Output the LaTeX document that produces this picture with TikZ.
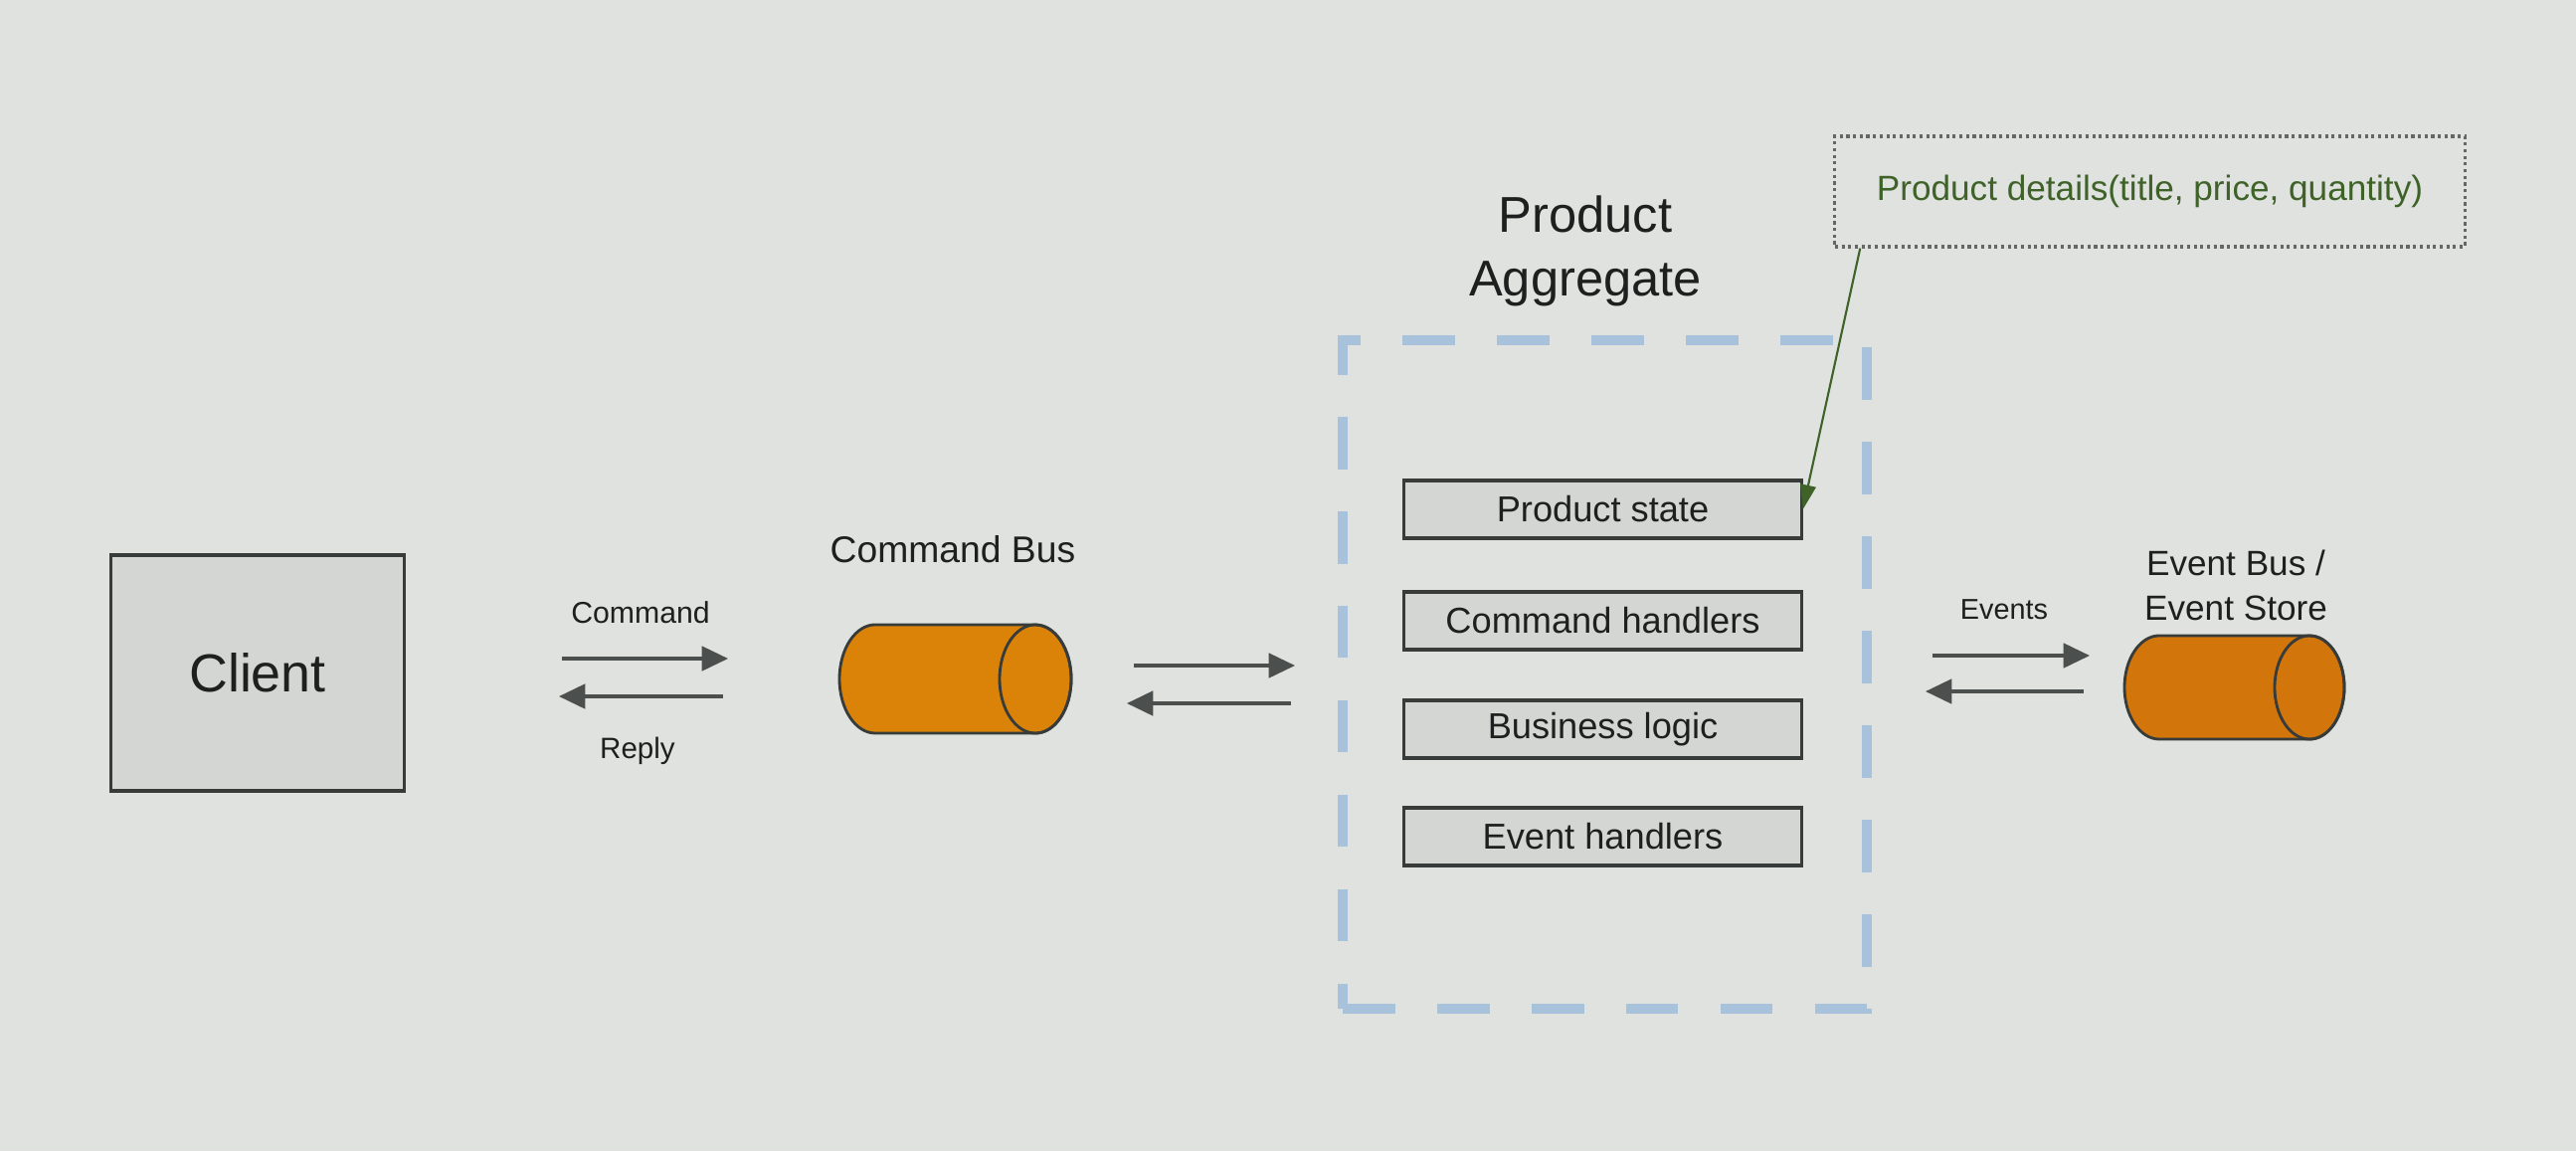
\documentclass[tikz,border=0pt]{standalone}
\usepackage{fontspec}
\setmainfont{Liberation Sans}
\usetikzlibrary{arrows.meta}
\definecolor{bg}{RGB}{223,226,223}
\definecolor{boxfill}{RGB}{212,214,212}
\definecolor{boxline}{RGB}{55,60,58}
\definecolor{orangeA}{RGB}{218,131,8}
\definecolor{orangeB}{RGB}{210,118,12}
\definecolor{aggblue}{RGB}{168,194,220}
\definecolor{notegreen}{RGB}{62,98,40}
\definecolor{txt}{RGB}{30,32,32}
\tikzset{
  plainbox/.style={draw=boxline, fill=boxfill, line width=0.9pt, inner sep=0pt, text=txt},
  innerbox/.style={plainbox, minimum width=3.99cm, minimum height=0.58cm, font=\fontsize{10.3}{12}\selectfont},
  aggbox/.style={draw=aggblue, line width=2.8pt, dash pattern=on 15pt off 12pt, inner sep=0pt},
  notebox/.style={draw=gray!80!black, densely dotted, line width=0.9pt, inner sep=0pt, text=notegreen, font=\fontsize{10}{12}\selectfont},
  lbl/.style={text=txt, inner sep=0pt, align=center},
  flow/.style={draw=boxline!90, line width=0.9pt, -{Triangle[length=7.5pt,width=7pt]}},
  greenarrow/.style={draw=notegreen, line width=0.6pt, -{Triangle[length=7pt,width=4.5pt]}},
  cylline/.style={draw=boxline, line width=0.8pt}
}
\begin{document}
\begin{tikzpicture}[x=0.01cm,y=-0.01cm]
\fill[bg] (0,0) rectangle (2590,1157);
\useasboundingbox (0,0) rectangle (2590,1157);

% Client
\node[plainbox, minimum width=2.94cm, minimum height=2.37cm, font=\fontsize{15.3}{18}\selectfont] (client) at (259,676.5) {Client};

% Command bus cylinder
\coordinate (cbus) at (960.5,682.5);
\draw[cylline, fill=orangeA] (1041,628) arc[start angle=90, end angle=-90, x radius=0.36cm, y radius=0.545cm] -- (880,737) arc[start angle=270, end angle=90, x radius=0.36cm, y radius=0.545cm] -- cycle;
\draw[cylline] (1041,682.5) ellipse [x radius=0.36cm, y radius=0.545cm];
\node[lbl, font=\fontsize{10.6}{13}\selectfont] (cbuslbl) at (958,552) {Command Bus};

% Event bus cylinder
\coordinate (ebus) at (2246.5,691);
\draw[cylline, fill=orangeB] (2322,639) arc[start angle=90, end angle=-90, x radius=0.35cm, y radius=0.52cm] -- (2171,743) arc[start angle=270, end angle=90, x radius=0.35cm, y radius=0.52cm] -- cycle;
\draw[cylline] (2322,691) ellipse [x radius=0.35cm, y radius=0.52cm];
\node[lbl, font=\fontsize{10}{12.8}\selectfont] (ebuslbl) at (2248,588) {Event Bus /\\Event Store};

% Aggregate
\node[aggbox, minimum width=5.27cm, minimum height=6.72cm] (agg) at (1613.5,678) {};
\node[lbl, font=\fontsize{14.4}{18.2}\selectfont] (agglbl) at (1594,252) {Product\\Aggregate};
\node[innerbox] (ps) at (1611.5,512) {Product state};
\node[innerbox] (ch) at (1611.5,624) {Command handlers};
\node[innerbox] (bl) at (1611.5,733) {Business logic};
\node[innerbox] (eh) at (1611.5,841) {Event handlers};

% Note
\node[notebox, minimum width=6.33cm, minimum height=1.11cm] (note) at (2161.5,192.5) {Product details(title, price, quantity)};
\draw[greenarrow] ([xshift=0.27cm]note.south west) -- (ps.east);

% Client <-> Command bus
\coordinate (a1s) at (565,662); \coordinate (a1e) at (732,662);
\coordinate (a2s) at (727,700); \coordinate (a2e) at (562,700);
\draw[flow] (a1s) -- (a1e);
\draw[flow] (a2s) -- (a2e);
\node[lbl, font=\fontsize{8.6}{10}\selectfont] (cmdlbl) at (644,616) {Command};
\node[lbl, font=\fontsize{8.4}{10}\selectfont] (replbl) at (641,755) {Reply};

% Command bus <-> Aggregate
\coordinate (b1s) at (1140,669); \coordinate (b1e) at (1302,669);
\coordinate (b2s) at (1298,707); \coordinate (b2e) at (1133,707);
\draw[flow] (b1s) -- (b1e);
\draw[flow] (b2s) -- (b2e);

% Aggregate <-> Event bus
\coordinate (c1s) at (1943,659); \coordinate (c1e) at (2101,659);
\coordinate (c2s) at (2095,695); \coordinate (c2e) at (1936,695);
\draw[flow] (c1s) -- (c1e);
\draw[flow] (c2s) -- (c2e);
\node[lbl, font=\fontsize{8.2}{10}\selectfont] (evlbl) at (2015,613) {Events};
\end{tikzpicture}
\end{document}
